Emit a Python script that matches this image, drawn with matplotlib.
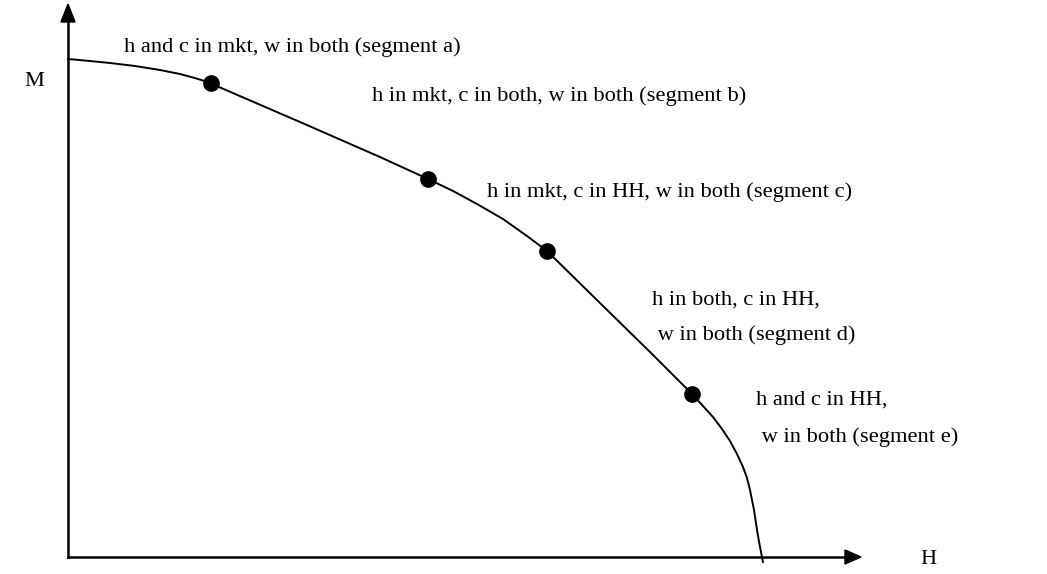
import matplotlib.pyplot as plt
from matplotlib.patches import Polygon

# curve (pixel-like units, y grows downward)
curve_x = [68, 90, 110, 135, 160, 180, 193, 203, 212,
           300, 380, 428,
           453, 477, 503, 527, 547,
           600, 650, 692,
           703, 713, 722, 730, 737, 743, 747, 750, 754, 757, 760, 763]
curve_y = [59, 61, 63, 66, 70, 74, 77.5, 80.5, 84,
           122, 157, 179,
           191, 204, 219, 236, 251,
           303, 352, 394,
           406, 417, 429, 441, 454, 467, 478, 490, 510, 530, 547, 562]

# kink points between segments
dot_x = [211, 428, 547, 692]
dot_y = [83, 179, 251, 394]

labels = [
    "h and c in mkt, w in both (segment a)",
    "h in mkt, c in both, w in both (segment b)",
    "h in mkt, c in HH, w in both (segment c)",
    "h in both, c in HH,",
    " w in both (segment d)",
    "h and c in HH,",
    " w in both (segment e)",
]
label_x = [124, 372, 487, 652, 652, 756, 756]
label_y = [47, 96, 192, 300, 335, 400, 437]

plt.rcParams['font.family'] = ['Liberation Serif', 'DejaVu Serif']

fig = plt.figure(figsize=(10.47, 5.74), dpi=100)
ax = fig.add_axes([0, 0, 1, 1])
ax.set_xlim(0, 1047)
ax.set_ylim(574, 0)
ax.axis('off')

# axes with arrows
ax.plot([68, 68], [557, 20], color='black', lw=1.8)
ax.plot([68, 848], [557, 557], color='black', lw=1.8)
ax.add_patch(Polygon([[61, 22], [75, 22], [68, 4]], closed=True, color='black'))
ax.add_patch(Polygon([[845, 550], [845, 564], [861, 557]], closed=True, color='black'))

ax.plot(curve_x, curve_y, color='black', lw=1.4, solid_joinstyle='round')
ax.plot(dot_x, dot_y, 'o', color='black', markersize=11)

for t, x, y in zip(labels, label_x, label_y):
    ax.text(x, y, t, fontsize=16.2, ha='left', va='center')

ax.text(34, 82, "M", fontsize=16.2, ha='center', va='center')
ax.text(928, 560, "H", fontsize=16.2, ha='center', va='center')

plt.savefig('out.png', dpi=100)
